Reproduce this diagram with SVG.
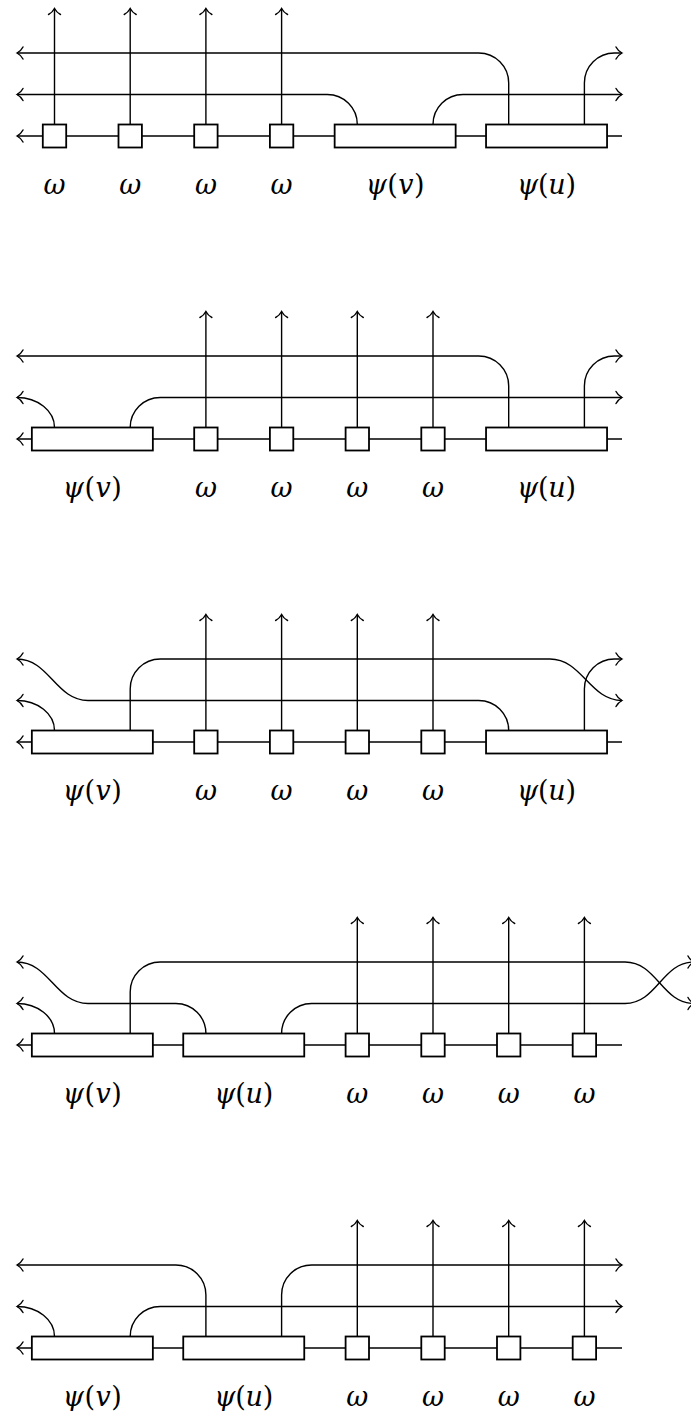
<svg xmlns="http://www.w3.org/2000/svg" width="691" height="1411" viewBox="0 0 691 1411">
<style>
.w{fill:none;stroke:#000;stroke-width:1.4}
.a{marker-end:url(#arr)}
.b{fill:#fff;stroke:#000;stroke-width:1.8}
.t{font-family:"DejaVu Serif",serif;font-size:27px;font-style:italic;text-anchor:middle;fill:#000}
.u{font-style:normal}
</style>
<defs>
<marker id="arr" markerUnits="userSpaceOnUse" markerWidth="14" markerHeight="14" viewBox="-10 -7 14 14" refX="0" refY="0" orient="auto" overflow="visible">
<path d="M-6,-6 C-4.5,-3 -1.5,-0.8 0,0 C-1.5,0.8 -4.5,3 -6,6" fill="none" stroke="#000" stroke-width="1.4" stroke-linecap="round"/>
</marker>
</defs>

<!-- Panel 1 -->
<g id="panel1">
<g id="p1-connectors">
<path class="w a" d="M622,136 H17"/>
<path class="w a" d="M357.3,124.5 C357.3,107.9 343.9,94.5 327.3,94.5 H17"/>
<path class="w a" d="M433,124.5 C433,107.9 446.4,94.5 463,94.5 H622"/>
<path class="w a" d="M508.7,124.5 V83 C508.7,66.4 495.3,53 478.7,53 H17"/>
<path class="w a" d="M584.4,124.5 V83 C584.4,66.4 597.8,53 614.4,53 H622"/>
<path class="w a" d="M54.5,124.5 V8.5"/>
<path class="w a" d="M130.2,124.5 V8.5"/>
<path class="w a" d="M205.9,124.5 V8.5"/>
<path class="w a" d="M281.6,124.5 V8.5"/>
</g>
<g id="p1-w1"><rect class="b" x="42.8" y="124.5" width="23.4" height="23"/><text class="t" x="54.5" y="194">ω</text></g>
<g id="p1-w2"><rect class="b" x="118.5" y="124.5" width="23.4" height="23"/><text class="t" x="130.2" y="194">ω</text></g>
<g id="p1-w3"><rect class="b" x="194.2" y="124.5" width="23.4" height="23"/><text class="t" x="205.9" y="194">ω</text></g>
<g id="p1-w4"><rect class="b" x="269.9" y="124.5" width="23.4" height="23"/><text class="t" x="281.6" y="194">ω</text></g>
<g id="p1-psiv"><rect class="b" x="334.65" y="124.5" width="121" height="23"/><text class="t" x="395.15" y="194" textLength="59" lengthAdjust="spacing">ψ<tspan class="u">(</tspan>v<tspan class="u">)</tspan></text></g>
<g id="p1-psiu"><rect class="b" x="486.05" y="124.5" width="121" height="23"/><text class="t" x="546.55" y="194" textLength="59" lengthAdjust="spacing">ψ<tspan class="u">(</tspan>u<tspan class="u">)</tspan></text></g>
</g>

<!-- Panel 2 -->
<g id="panel2" transform="translate(0,303)">
<g id="p2-connectors">
<path class="w a" d="M622,136 H17"/>
<path class="w a" d="M54.5,124.5 C54.5,107.9 37.8,94.5 17,94.5"/>
<path class="w a" d="M130.2,124.5 C130.2,107.9 143.6,94.5 160.2,94.5 H622"/>
<path class="w a" d="M508.7,124.5 V83 C508.7,66.4 495.3,53 478.7,53 H17"/>
<path class="w a" d="M584.4,124.5 V83 C584.4,66.4 597.8,53 614.4,53 H622"/>
<path class="w a" d="M205.9,124.5 V8.5"/>
<path class="w a" d="M281.6,124.5 V8.5"/>
<path class="w a" d="M357.3,124.5 V8.5"/>
<path class="w a" d="M433,124.5 V8.5"/>
</g>
<g id="p2-psiv"><rect class="b" x="31.85" y="124.5" width="121" height="23"/><text class="t" x="92.35" y="194" textLength="59" lengthAdjust="spacing">ψ<tspan class="u">(</tspan>v<tspan class="u">)</tspan></text></g>
<g id="p2-w1"><rect class="b" x="194.2" y="124.5" width="23.4" height="23"/><text class="t" x="205.9" y="194">ω</text></g>
<g id="p2-w2"><rect class="b" x="269.9" y="124.5" width="23.4" height="23"/><text class="t" x="281.6" y="194">ω</text></g>
<g id="p2-w3"><rect class="b" x="345.6" y="124.5" width="23.4" height="23"/><text class="t" x="357.3" y="194">ω</text></g>
<g id="p2-w4"><rect class="b" x="421.3" y="124.5" width="23.4" height="23"/><text class="t" x="433" y="194">ω</text></g>
<g id="p2-psiu"><rect class="b" x="486.05" y="124.5" width="121" height="23"/><text class="t" x="546.55" y="194" textLength="59" lengthAdjust="spacing">ψ<tspan class="u">(</tspan>u<tspan class="u">)</tspan></text></g>
</g>

<!-- Panel 3 -->
<g id="panel3" transform="translate(0,606)">
<g id="p3-connectors">
<path class="w a" d="M622,136 H17"/>
<path class="w a" d="M54.5,124.5 C54.5,107.9 37.8,94.5 17,94.5"/>
<path class="w a" d="M508.7,124.5 C508.7,107.9 495.3,94.5 478.7,94.5 H88 C56,94.5 49,53 17,53"/>
<path class="w a" d="M130.2,124.5 V83 C130.2,66.4 143.6,53 160.2,53 H550 C582,53 590,94.5 622,94.5"/>
<path class="w a" d="M584.4,124.5 V83 C584.4,66.4 597.8,53 614.4,53 H622"/>
<path class="w a" d="M205.9,124.5 V8.5"/>
<path class="w a" d="M281.6,124.5 V8.5"/>
<path class="w a" d="M357.3,124.5 V8.5"/>
<path class="w a" d="M433,124.5 V8.5"/>
</g>
<g id="p3-psiv"><rect class="b" x="31.85" y="124.5" width="121" height="23"/><text class="t" x="92.35" y="194" textLength="59" lengthAdjust="spacing">ψ<tspan class="u">(</tspan>v<tspan class="u">)</tspan></text></g>
<g id="p3-w1"><rect class="b" x="194.2" y="124.5" width="23.4" height="23"/><text class="t" x="205.9" y="194">ω</text></g>
<g id="p3-w2"><rect class="b" x="269.9" y="124.5" width="23.4" height="23"/><text class="t" x="281.6" y="194">ω</text></g>
<g id="p3-w3"><rect class="b" x="345.6" y="124.5" width="23.4" height="23"/><text class="t" x="357.3" y="194">ω</text></g>
<g id="p3-w4"><rect class="b" x="421.3" y="124.5" width="23.4" height="23"/><text class="t" x="433" y="194">ω</text></g>
<g id="p3-psiu"><rect class="b" x="486.05" y="124.5" width="121" height="23"/><text class="t" x="546.55" y="194" textLength="59" lengthAdjust="spacing">ψ<tspan class="u">(</tspan>u<tspan class="u">)</tspan></text></g>
</g>

<!-- Panel 4 -->
<g id="panel4" transform="translate(0,909)">
<g id="p4-connectors">
<path class="w a" d="M622,136 H17"/>
<path class="w a" d="M54.5,124.5 C54.5,107.9 37.8,94.5 17,94.5"/>
<path class="w a" d="M205.9,124.5 C205.9,107.9 192.5,94.5 175.9,94.5 H88 C56,94.5 49,53 17,53"/>
<path class="w a" d="M130.2,124.5 V83 C130.2,66.4 143.6,53 160.2,53 H625 C657,53 662,94.5 694,94.5"/>
<path class="w a" d="M281.6,124.5 C281.6,107.9 295,94.5 311.6,94.5 H625 C657,94.5 662,53 694,53"/>
<path class="w a" d="M357.3,124.5 V8.5"/>
<path class="w a" d="M433,124.5 V8.5"/>
<path class="w a" d="M508.7,124.5 V8.5"/>
<path class="w a" d="M584.4,124.5 V8.5"/>
</g>
<g id="p4-psiv"><rect class="b" x="31.85" y="124.5" width="121" height="23"/><text class="t" x="92.35" y="194" textLength="59" lengthAdjust="spacing">ψ<tspan class="u">(</tspan>v<tspan class="u">)</tspan></text></g>
<g id="p4-psiu"><rect class="b" x="183.25" y="124.5" width="121" height="23"/><text class="t" x="243.75" y="194" textLength="59" lengthAdjust="spacing">ψ<tspan class="u">(</tspan>u<tspan class="u">)</tspan></text></g>
<g id="p4-w1"><rect class="b" x="345.6" y="124.5" width="23.4" height="23"/><text class="t" x="357.3" y="194">ω</text></g>
<g id="p4-w2"><rect class="b" x="421.3" y="124.5" width="23.4" height="23"/><text class="t" x="433" y="194">ω</text></g>
<g id="p4-w3"><rect class="b" x="497" y="124.5" width="23.4" height="23"/><text class="t" x="508.7" y="194">ω</text></g>
<g id="p4-w4"><rect class="b" x="572.7" y="124.5" width="23.4" height="23"/><text class="t" x="584.4" y="194">ω</text></g>
</g>

<!-- Panel 5 -->
<g id="panel5" transform="translate(0,1212)">
<g id="p5-connectors">
<path class="w a" d="M622,136 H17"/>
<path class="w a" d="M54.5,124.5 C54.5,107.9 37.8,94.5 17,94.5"/>
<path class="w a" d="M130.2,124.5 C130.2,107.9 143.6,94.5 160.2,94.5 H622"/>
<path class="w a" d="M205.9,124.5 V83 C205.9,66.4 192.5,53 175.9,53 H17"/>
<path class="w a" d="M281.6,124.5 V83 C281.6,66.4 295,53 311.6,53 H622"/>
<path class="w a" d="M357.3,124.5 V8.5"/>
<path class="w a" d="M433,124.5 V8.5"/>
<path class="w a" d="M508.7,124.5 V8.5"/>
<path class="w a" d="M584.4,124.5 V8.5"/>
</g>
<g id="p5-psiv"><rect class="b" x="31.85" y="124.5" width="121" height="23"/><text class="t" x="92.35" y="194" textLength="59" lengthAdjust="spacing">ψ<tspan class="u">(</tspan>v<tspan class="u">)</tspan></text></g>
<g id="p5-psiu"><rect class="b" x="183.25" y="124.5" width="121" height="23"/><text class="t" x="243.75" y="194" textLength="59" lengthAdjust="spacing">ψ<tspan class="u">(</tspan>u<tspan class="u">)</tspan></text></g>
<g id="p5-w1"><rect class="b" x="345.6" y="124.5" width="23.4" height="23"/><text class="t" x="357.3" y="194">ω</text></g>
<g id="p5-w2"><rect class="b" x="421.3" y="124.5" width="23.4" height="23"/><text class="t" x="433" y="194">ω</text></g>
<g id="p5-w3"><rect class="b" x="497" y="124.5" width="23.4" height="23"/><text class="t" x="508.7" y="194">ω</text></g>
<g id="p5-w4"><rect class="b" x="572.7" y="124.5" width="23.4" height="23"/><text class="t" x="584.4" y="194">ω</text></g>
</g>
</svg>
